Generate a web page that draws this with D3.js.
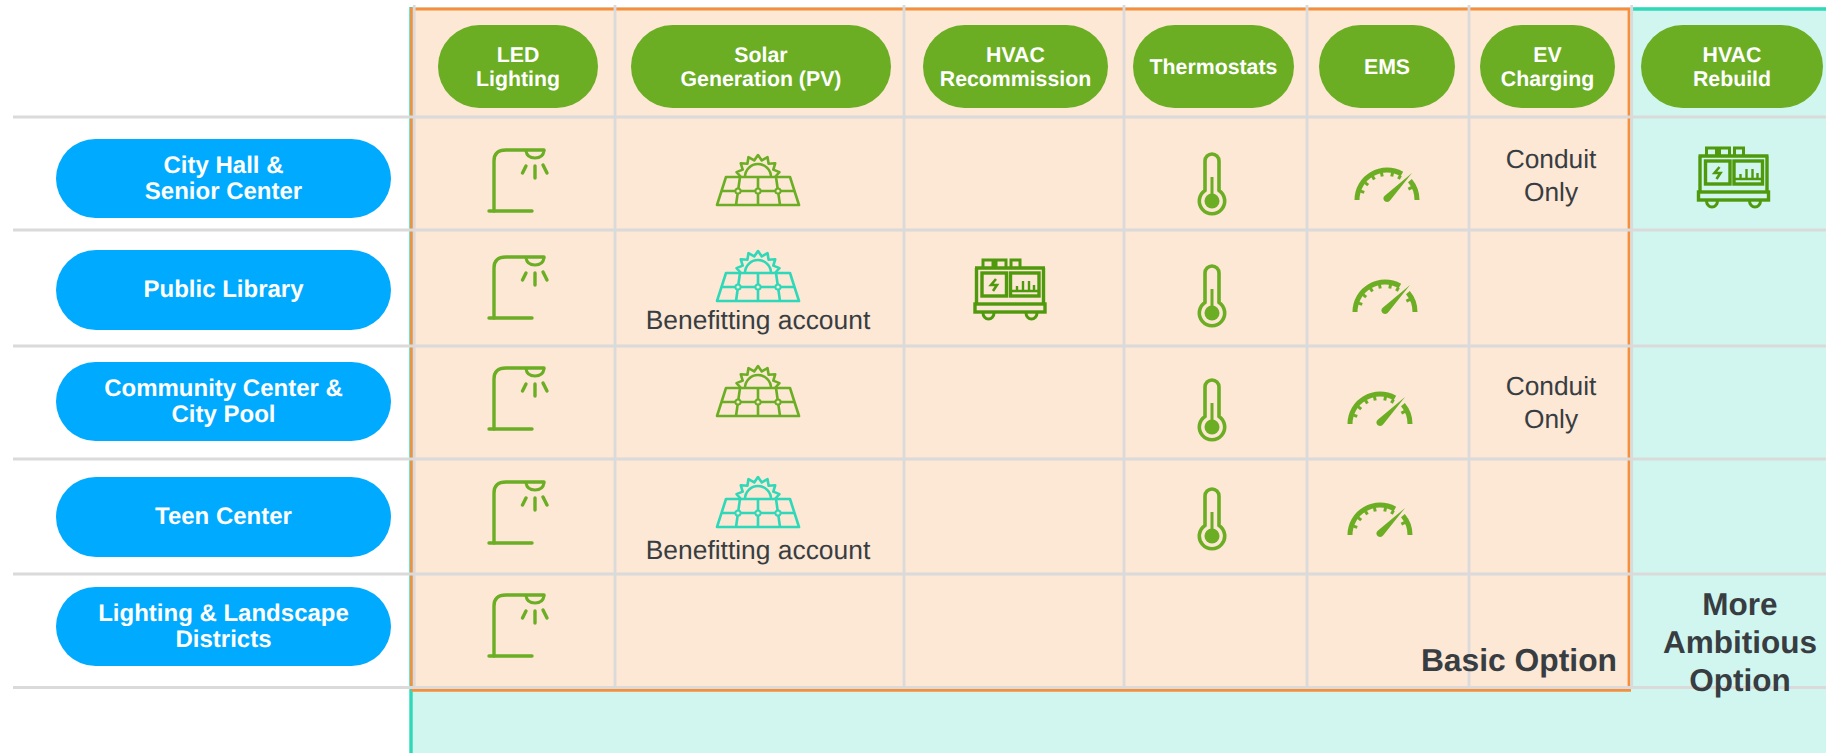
<!DOCTYPE html>
<html>
<head>
<meta charset="utf-8">
<script src="https://cdn.jsdelivr.net/npm/d3@7"></script>
<style>
  html, body { margin: 0; padding: 0; background: #fff; }
  svg { display: block; }
  text { font-family: "Liberation Sans", Arial, sans-serif; text-rendering: geometricPrecision; }
</style>
</head>
<body>
<svg id="chart"></svg>
<script>
// measures across the top
const measures = ['LED', 'Solar', 'HVAC', 'Thermostats', 'EMS', 'EV', 'Rebuild'];
const measureLabels = [
  ['LED', 'Lighting'],
  ['Solar', 'Generation (PV)'],
  ['HVAC', 'Recommission'],
  ['Thermostats'],
  ['EMS'],
  ['EV', 'Charging'],
  ['HVAC', 'Rebuild']
];

// facilities down the side
const facilities = ['City Hall', 'Library', 'Community', 'Teen', 'Districts'];
const facilityLabels = [
  ['City Hall &', 'Senior Center'],
  ['Public Library'],
  ['Community Center &', 'City Pool'],
  ['Teen Center'],
  ['Lighting & Landscape', 'Districts']
];

// what goes in each cell
const ledCells = ['City Hall', 'Library', 'Community', 'Teen', 'Districts'];
const solarCells = ['City Hall', 'Community'];
const solarBenefitCells = ['Library', 'Teen'];
const hvacCells = ['Library'];
const thermostatCells = ['City Hall', 'Library', 'Community', 'Teen'];
const emsCells = ['City Hall', 'Library', 'Community', 'Teen'];
const conduitCells = ['City Hall', 'Community'];
const rebuildCells = ['City Hall'];

const benefitLabel = 'Benefitting account';
const conduitLabel = ['Conduit', 'Only'];
const basicLabel = ['Basic Option'];
const ambitiousLabel = ['More', 'Ambitious', 'Option'];

const width = 1826;
const height = 753;

const GREEN = '#6BAE24';
const DARK_GREEN = '#4F9A0C';
const TEAL = '#2FD8B8';
const BLUE = '#00AAFF';
const INK = '#383D42';
const GRID = '#DADADA';
const PEACH = '#FDE7D5';

// layout: grid lines and pills
const colEdges = [414.2, 615, 904, 1124, 1307, 1469, 1631.7];
const rowEdges = [117, 230, 346, 459, 574, 687.5];
const headerPills = [[438, 598], [631, 891], [923, 1108], [1133, 1294], [1319, 1455], [1480, 1615], [1641, 1823]];
const rowPills = [[139, 218], [250, 330], [362, 441], [477, 557], [587, 666]];

const xPill = d3.scaleOrdinal(measures, headerPills);
const yPill = d3.scaleOrdinal(facilities, rowPills);

// icon anchors per row, they drift a little in the source slide
const lampY = d3.scaleOrdinal(facilities, [149, 256, 367, 481, 594]);
const solarY = d3.scaleOrdinal(facilities, [177, 273, 388, 499]);
const benefitY = d3.scaleOrdinal(facilities, [329, 329, 329, 559]);
const thermoY = d3.scaleOrdinal(facilities, [154, 266, 380, 489]);
const gaugeX = d3.scaleOrdinal(facilities, [1387, 1385, 1380, 1380]);
const gaugeY = d3.scaleOrdinal(facilities, [200, 312, 424, 535]);
const genY = d3.scaleOrdinal(facilities, [178, 290]);
const conduitY = d3.scaleOrdinal(facilities, [168, 168, 395]);

const svg = d3.select('#chart').attr('width', width).attr('height', height);

// background panels
svg.append('rect').attr('x', 410).attr('y', 7).attr('width', width - 410).attr('height', height - 7).attr('fill', '#D0F6EF');
svg.append('rect').attr('x', 412).attr('y', 9).attr('width', 1217).attr('height', 681).attr('fill', PEACH);

// option outlines
svg.append('line').attr('x1', 411).attr('x2', 411).attr('y1', 7).attr('y2', height).attr('stroke', TEAL).attr('stroke-width', 3.4);
svg.append('line').attr('x1', 1633).attr('x2', width).attr('y1', 9).attr('y2', 9).attr('stroke', TEAL).attr('stroke-width', 3.4);
svg.append('path')
  .attr('d', 'M411.5,686V9H1629V691M411.5,690.3H1631')
  .attr('fill', 'none').attr('stroke', '#F58F3C').attr('stroke-width', 2.8);

// grid sits on top of the outlines
const grid = svg.append('g').attr('stroke', GRID).attr('stroke-width', 2.8);
grid.selectAll('.h').data(rowEdges).enter().append('line')
  .attr('x1', 13).attr('x2', width).attr('y1', d => d).attr('y2', d => d);
grid.selectAll('.v').data(colEdges).enter().append('line')
  .attr('x1', d => d).attr('x2', d => d).attr('y1', 5).attr('y2', 687);

function pill(g, x0, x1, y0, y1, fill, lines, fontSize, lineHeight, lift) {
  g.append('rect')
    .attr('x', x0).attr('y', y0)
    .attr('width', x1 - x0).attr('height', y1 - y0)
    .attr('rx', (y1 - y0) / 2).attr('ry', (y1 - y0) / 2)
    .attr('fill', fill);
  const cy = (y0 + y1) / 2;
  lines.forEach((s, i) => {
    g.append('text')
      .attr('x', (x0 + x1) / 2)
      .attr('y', cy + (i - (lines.length - 1) / 2) * lineHeight + fontSize * 0.36 - lift)
      .attr('text-anchor', 'middle')
      .attr('font-weight', 'bold')
      .attr('font-size', fontSize)
      .attr('fill', '#fff')
      .text(s);
  });
}

const pills = svg.append('g');
measures.forEach((m, i) => pill(pills, xPill(m)[0], xPill(m)[1], 25, 108, GREEN, measureLabels[i], 21.3, 23.5, 0));
facilities.forEach((f, i) => pill(pills, 56, 391, yPill(f)[0], yPill(f)[1], BLUE, facilityLabels[i], 24, 26, 1.2));

function plainText(lines, x, y, size, weight, lineHeight, anchor) {
  lines.forEach((s, i) => {
    svg.append('text')
      .attr('x', x).attr('y', y + i * lineHeight)
      .attr('text-anchor', anchor || 'middle')
      .attr('font-size', size)
      .attr('font-weight', weight)
      .attr('fill', INK)
      .text(s);
  });
}

// icons
function lamp(x, y) {
  const g = svg.append('g').attr('transform', `translate(${x},${y})`)
    .attr('fill', 'none').attr('stroke', GREEN).attr('stroke-width', 3.4).attr('stroke-linecap', 'round');
  g.append('path').attr('d', 'M0,62V12Q0,1 12,1H50');
  g.append('path').attr('d', 'M-5,62H38');
  g.append('path').attr('d', 'M32,2Q33,9 41,9Q49,9 50,2').attr('stroke-width', 3);
  g.append('path').attr('d', 'M41,17V29M32,17L28.5,24M49,16L53,24');
}

function solar(y, color) {
  const g = svg.append('g').attr('transform', `translate(758,${y})`)
    .attr('fill', 'none').attr('stroke', color).attr('stroke-width', 2.6).attr('stroke-linejoin', 'round');
  const teeth = d3.range(0, 15).map(i => {
    const a = Math.PI * i / 14;
    const r = i % 2 ? 22 : 17;
    return [-r * Math.cos(a), -r * Math.sin(a)];
  });
  g.append('path').attr('d', d3.line()(teeth));
  g.append('path').attr('d', 'M-13,0A13,13 0 0 1 13,0');
  g.append('path').attr('d', 'M-32,0H32L41,28H-41Z');
  g.append('path').attr('d', 'M-36.5,14H36.5');
  g.append('path').attr('d', 'M0,0V28M-18,0L-20,14L-22,28M18,0L20,14L22,28');
  [-20, 0, 20].forEach(d => {
    g.append('circle').attr('cx', d).attr('cy', 14).attr('r', 2.6).attr('fill', PEACH).attr('stroke-width', 2);
  });
}

function thermometer(y) {
  const g = svg.append('g').attr('transform', `translate(1212,${y})`).attr('fill', 'none').attr('stroke', GREEN).attr('stroke-width', 3.6);
  g.append('path').attr('d', 'M-7,36.4V7A7,7 0 0 1 7,7V36.4A12.7,12.7 0 1 1 -7,36.4Z');
  g.append('line').attr('x1', 0).attr('x2', 0).attr('y1', 23).attr('y2', 44).attr('stroke-width', 3);
  g.append('circle').attr('cx', 0).attr('cy', 47).attr('r', 7.5).attr('fill', GREEN).attr('stroke', 'none');
}

function gauge(x, y) {
  const g = svg.append('g').attr('transform', `translate(${x},${y})`).attr('fill', 'none').attr('stroke', GREEN);
  const arc = d3.arc().innerRadius(27.5).outerRadius(32.5);
  g.append('path').attr('d', arc({ startAngle: -Math.PI / 2, endAngle: 0.52 })).attr('fill', GREEN).attr('stroke', 'none');
  g.append('path').attr('d', arc({ startAngle: 0.87, endAngle: Math.PI / 2 })).attr('fill', GREEN).attr('stroke', 'none');
  [-1.25, -0.9, -0.55, -0.2, 0.2, 0.5, 1.1].forEach(a => {
    g.append('line')
      .attr('x1', 28 * Math.sin(a)).attr('y1', -28 * Math.cos(a))
      .attr('x2', 24 * Math.sin(a)).attr('y2', -24 * Math.cos(a))
      .attr('stroke-width', 3);
  });
  g.append('path').attr('d', 'M25,-27L3.5,0Q1,3.5 -2.5,1Q-5,-2 -2,-4.5Z').attr('fill', GREEN).attr('stroke', 'none');
}

function generator(cx, cy) {
  const g = svg.append('g').attr('transform', `translate(${cx},${cy})`)
    .attr('fill', 'none').attr('stroke', DARK_GREEN).attr('stroke-width', 3.4);
  g.append('path').attr('d', 'M-35,-22H35M-33.5,-22V14M33.5,-22V14');
  g.append('path').attr('d', 'M-27,-23V-30H-17V-23M-14,-23V-30H-4V-23M1,-23V-30H10V-23').attr('stroke-width', 3);
  g.append('rect').attr('x', -28).attr('y', -17).attr('width', 24.5).attr('height', 23);
  g.append('rect').attr('x', 0.5).attr('y', -17).attr('width', 28.5).attr('height', 23);
  g.append('path').attr('d', 'M-14,-11L-19,-5H-13L-17,1').attr('stroke-width', 2.6);
  g.append('path').attr('d', 'M1,1H28M7,1V-4M13,1V-9M19,1V-9M24,1V-5').attr('stroke-width', 2.4);
  g.append('rect').attr('x', -35).attr('y', 14).attr('width', 70).attr('height', 8);
  g.append('path').attr('d', 'M-27,23A5.5,6 0 0 0 -16,23M16,23A5.5,6 0 0 0 27,23').attr('stroke-width', 3);
}

ledCells.forEach(f => lamp(494, lampY(f)));
solarCells.forEach(f => solar(solarY(f), GREEN));
solarBenefitCells.forEach(f => solar(solarY(f), TEAL));
solarBenefitCells.forEach(f => plainText([benefitLabel], 758, benefitY(f), 26.4, 'normal', 0));
hvacCells.forEach(f => generator(1010, genY(f)));
rebuildCells.forEach(f => generator(1733.5, genY(f)));
thermostatCells.forEach(f => thermometer(thermoY(f)));
emsCells.forEach(f => gauge(gaugeX(f), gaugeY(f)));
conduitCells.forEach(f => plainText(conduitLabel, 1551, conduitY(f), 26.3, 'normal', 33));

plainText(basicLabel, 1617, 671, 31.8, 'bold', 0, 'end');
plainText(ambitiousLabel, 1740, 615, 31.5, 'bold', 38);
</script>
</body>
</html>
